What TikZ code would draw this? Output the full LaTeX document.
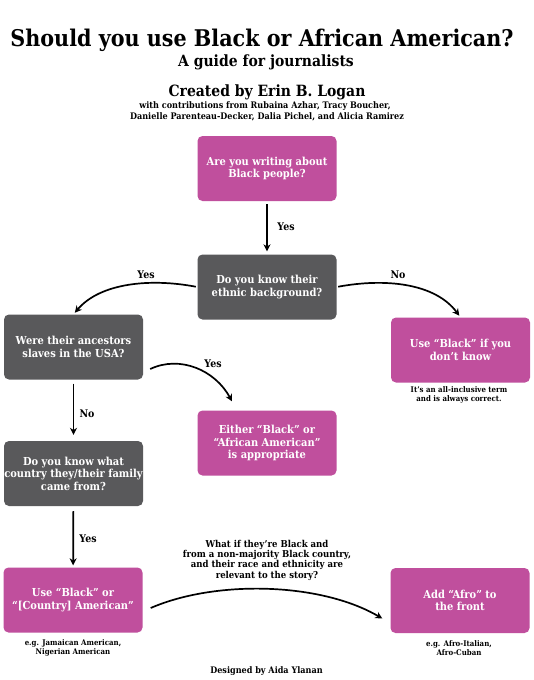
\documentclass[tikz,border=0pt]{standalone}
\usepackage{fontspec}
\setmainfont{DejaVu Serif}[FakeStretch=0.9]
\usetikzlibrary{arrows.meta,calc}
\definecolor{mag}{RGB}{192,79,157}
\definecolor{slate}{RGB}{89,89,91}
\begin{document}
\begin{tikzpicture}[x=1pt,y=-1pt,
 box/.style={rounded corners=5pt, minimum width=139pt, minimum height=65pt, text=white, font=\bfseries\fontsize{11}{12.6}\selectfont, align=center, inner sep=0pt},
 pbox/.style={box, fill=mag},
 gbox/.style={box, fill=slate},
 arr/.style={line width=1.7pt, -{Stealth[length=7pt,width=7pt]}},
 lab/.style={font=\bfseries\fontsize{10.5}{12}\selectfont},
 captxt/.style={font=\bfseries\fontsize{7.8}{9}\selectfont, align=center},
 hdr/.style={anchor=base, font=\bfseries},
]
\useasboundingbox[fill=white] (0,0) rectangle (534,680);

% header
\node[hdr, font=\bfseries\fontsize{23}{26}\selectfont] (title) at (262,46) {Should you use Black or African American?};
\node[hdr, font=\bfseries\fontsize{15.5}{18}\selectfont] (sub) at (266,66) {A guide for journalists};
\node[hdr, font=\bfseries\fontsize{15.5}{18}\selectfont] (cre) at (267,96) {Created by Erin B. Logan};
\node[hdr, font=\bfseries\fontsize{9}{10}\selectfont] (con1) at (265,108) {with contributions from Rubaina Azhar, Tracy Boucher,};
\node[hdr, font=\bfseries\fontsize{9}{10}\selectfont] (con2) at (267,119) {Danielle Parenteau-Decker, Dalia Pichel, and Alicia Ramirez};

% boxes
\node[pbox] (b1) at (267,168.5) {Are you writing about\\Black people?};
\node[gbox] (b2) at (267,287) {Do you know their\\ethnic background?};
\node[gbox] (b3) at (73.5,347) {Were their ancestors\\slaves in the USA?};
\node[pbox] (b4) at (460.5,350) {Use “Black” if you\\don’t know};
\node[pbox] (b5) at (267,443) {Either “Black” or\\“African American”\\is appropriate};
\node[gbox] (b6) at (73.5,473.5) {Do you know what\\country they/their family\\came from?};
\node[pbox] (b7) at (73,600) {Use “Black” or\\“[Country] American”};
\node[pbox] (b8) at (460,600.5) {Add “Afro” to\\the front};

% captions
\node[captxt] (c4) at (459,395) {It’s an all-inclusive term\\and is always correct.};
\node[captxt] (c7) at (73,648) {e.g. Jamaican American,\\Nigerian American};
\node[captxt] (c8) at (459,648) {e.g. Afro-Italian,\\Afro-Cuban};
\node[captxt, font=\bfseries\fontsize{9.5}{10.3}\selectfont] (mid) at (267,560) {What if they’re Black and\\from a non-majority Black country,\\and their race and ethnicity are\\relevant to the story?};
\node[hdr, font=\bfseries\fontsize{9}{10}\selectfont] (des) at (266.5,673) {Designed by Aida Ylanan};

% connectors
\draw[arr, shorten <=3pt, shorten >=3pt] (b1) -- (b2);
\node[lab] (y1) at (286,227) {Yes};

\draw[arr, shorten <=1.5pt, shorten >=2pt] (b2.west) .. controls (150,278) and (100,283) .. (b3.north);
\node[lab] (y2) at (146,275) {Yes};

\draw[arr, shorten <=1.5pt, shorten >=2pt] (b2.east) .. controls (385,278) and (435,283) .. (b4.north);
\node[lab] (n1) at (398,275) {No};

\coordinate (s35) at ($(b3.east)+(7,22)$);
\coordinate (e35) at ($(b5.north)+(-35,-9)$);
\draw[arr] (s35) .. controls (180,355) and (215,370) .. (e35);
\node[lab] (y3) at (213,364) {Yes};

\draw[arr, shorten <=4pt, shorten >=6pt] (b3) -- (b6);
\node[lab] (n2) at (87,414) {No};

\draw[arr, shorten <=5pt, shorten >=2pt] (b6) -- (b7);
\node[lab] (y4) at (88,539) {Yes};

\coordinate (s78) at ($(b7.east)+(8,8)$);
\coordinate (e78) at ($(b8.west)+(-8,18)$);
\draw[arr] (s78) .. controls (215,580) and (320,582) .. (e78);
\end{tikzpicture}
\end{document}
